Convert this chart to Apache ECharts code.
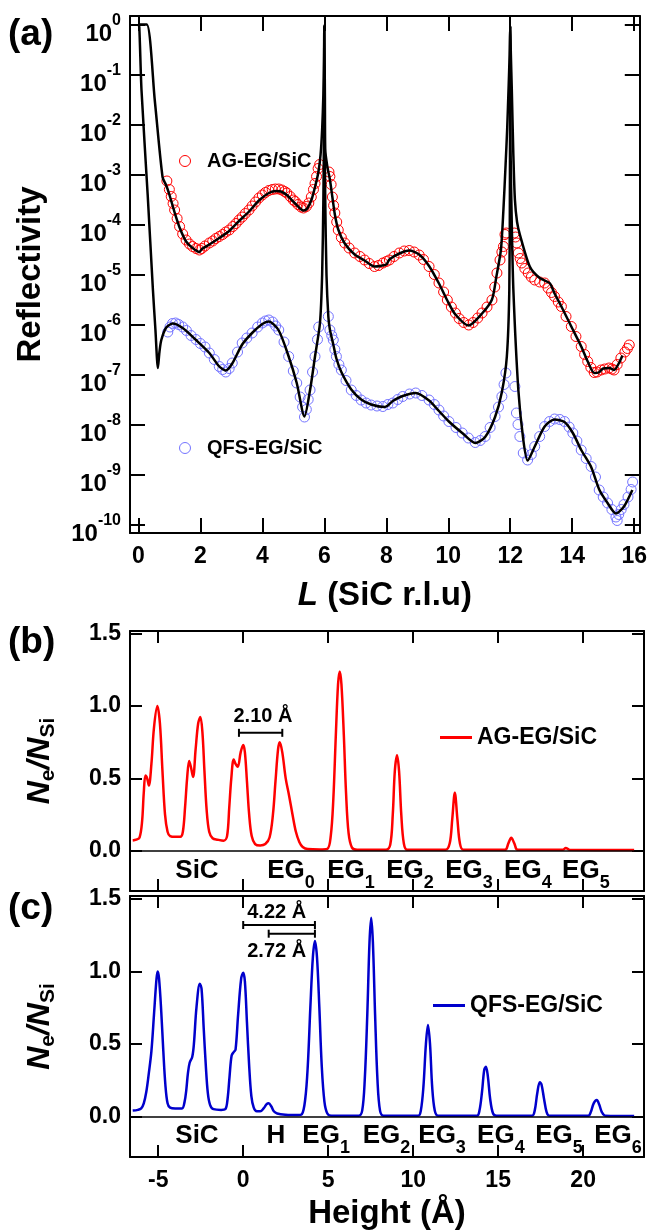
<!DOCTYPE html>
<html><head><meta charset="utf-8">
<script src="https://cdn.jsdelivr.net/npm/echarts@6/dist/echarts.min.js"></script>
<style>html,body{margin:0;padding:0;background:#fff}#c{width:650px;height:1232px}</style>
</head><body><div id="c"></div>
<script>
// ---------- Panel (a): reflectivity, values stored as log10(R) ----------
const agData = [[0.92,-3.13],[1.0,-3.30],[1.06,-3.44],[1.12,-3.58],[1.17,-3.71],[1.25,-3.88],[1.33,-4.04],[1.43,-4.19],[1.54,-4.31],[1.65,-4.39],[1.75,-4.44],[1.86,-4.48],[1.97,-4.51],[2.05,-4.48],[2.15,-4.43],[2.29,-4.37],[2.4,-4.33],[2.5,-4.28],[2.61,-4.24],[2.72,-4.20],[2.82,-4.15],[2.93,-4.11],[3.05,-4.04],[3.15,-3.98],[3.25,-3.91],[3.35,-3.85],[3.45,-3.78],[3.57,-3.71],[3.67,-3.63],[3.78,-3.55],[3.89,-3.47],[4.0,-3.41],[4.1,-3.36],[4.21,-3.32],[4.32,-3.30],[4.42,-3.29],[4.53,-3.29],[4.63,-3.31],[4.72,-3.34],[4.79,-3.37],[4.9,-3.44],[5.0,-3.51],[5.06,-3.54],[5.15,-3.60],[5.25,-3.65],[5.33,-3.67],[5.42,-3.64],[5.5,-3.57],[5.58,-3.45],[5.65,-3.30],[5.7,-3.18],[5.75,-3.04],[5.8,-2.88],[5.85,-2.80],[6.15,-2.95],[6.18,-3.04],[6.22,-3.2],[6.26,-3.45],[6.3,-3.62],[6.34,-3.77],[6.4,-3.95],[6.45,-4.11],[6.55,-4.26],[6.66,-4.37],[6.8,-4.47],[6.98,-4.57],[7.15,-4.64],[7.3,-4.71],[7.45,-4.78],[7.62,-4.84],[7.75,-4.82],[7.89,-4.77],[8.0,-4.74],[8.1,-4.71],[8.25,-4.64],[8.42,-4.57],[8.58,-4.53],[8.74,-4.52],[8.9,-4.55],[9.06,-4.61],[9.2,-4.7],[9.38,-4.84],[9.55,-5.0],[9.7,-5.17],[9.85,-5.35],[9.97,-5.51],[10.1,-5.65],[10.23,-5.77],[10.35,-5.88],[10.5,-5.96],[10.66,-6.01],[10.8,-5.96],[10.95,-5.87],[11.09,-5.77],[11.25,-5.65],[11.41,-5.51],[11.5,-5.25],[11.57,-4.97],[11.67,-4.71],[11.73,-4.55],[11.78,-4.44],[11.83,-4.2],[11.87,-4.17],[12.13,-4.17],[12.17,-4.25],[12.21,-4.37],[12.26,-4.57],[12.32,-4.68],[12.37,-4.77],[12.47,-4.88],[12.58,-4.97],[12.68,-5.05],[12.79,-5.11],[12.95,-5.15],[13.11,-5.17],[13.22,-5.27],[13.33,-5.36],[13.43,-5.44],[13.55,-5.55],[13.65,-5.64],[13.8,-5.84],[13.97,-6.04],[14.12,-6.24],[14.29,-6.44],[14.4,-6.6],[14.5,-6.74],[14.6,-6.86],[14.71,-6.96],[14.8,-6.95],[14.93,-6.91],[15.05,-6.89],[15.19,-6.87],[15.28,-6.89],[15.35,-6.91],[15.45,-6.8],[15.57,-6.67],[15.7,-6.55],[15.78,-6.48],[15.84,-6.41]];

const qfsData = [[0.95,-6.15],[1.02,-6.05],[1.1,-5.98],[1.2,-5.97],[1.3,-6.0],[1.43,-6.05],[1.55,-6.12],[1.7,-6.22],[1.86,-6.3],[2.0,-6.38],[2.15,-6.45],[2.29,-6.57],[2.45,-6.7],[2.61,-6.84],[2.72,-6.9],[2.82,-6.95],[2.93,-6.88],[3.03,-6.77],[3.2,-6.55],[3.35,-6.37],[3.5,-6.27],[3.67,-6.17],[3.85,-6.05],[4.0,-5.97],[4.1,-5.93],[4.21,-5.91],[4.33,-5.95],[4.43,-6.03],[4.53,-6.11],[4.7,-6.35],[4.85,-6.64],[5.0,-6.93],[5.11,-7.17],[5.22,-7.45],[5.3,-7.65],[5.36,-7.85],[5.42,-7.7],[5.48,-7.5],[5.54,-7.31],[5.62,-6.95],[5.7,-6.64],[5.78,-6.3],[5.82,-6.05],[6.13,-5.84],[6.18,-6.11],[6.24,-6.22],[6.29,-6.31],[6.34,-6.5],[6.39,-6.64],[6.47,-6.8],[6.55,-6.91],[6.7,-7.12],[6.87,-7.31],[7.03,-7.42],[7.19,-7.51],[7.35,-7.57],[7.51,-7.61],[7.7,-7.63],[7.89,-7.64],[8.05,-7.6],[8.21,-7.57],[8.37,-7.5],[8.53,-7.44],[8.75,-7.39],[8.95,-7.37],[9.15,-7.42],[9.38,-7.51],[9.55,-7.6],[9.7,-7.71],[9.85,-7.83],[10.02,-7.94],[10.25,-8.06],[10.45,-8.17],[10.65,-8.27],[10.87,-8.36],[11.03,-8.32],[11.19,-8.24],[11.35,-8.06],[11.51,-7.84],[11.62,-7.65],[11.73,-7.44],[11.8,-7.2],[11.86,-6.97],[12.15,-7.24],[12.2,-7.77],[12.25,-8.0],[12.31,-8.24],[12.42,-8.57],[12.56,-8.71],[12.68,-8.6],[12.79,-8.44],[12.95,-8.24],[13.11,-8.04],[13.27,-7.94],[13.43,-7.89],[13.6,-7.9],[13.75,-7.94],[13.9,-8.05],[14.02,-8.17],[14.15,-8.33],[14.29,-8.51],[14.45,-8.68],[14.61,-8.84],[14.75,-9.05],[14.87,-9.31],[15.0,-9.45],[15.14,-9.57],[15.28,-9.7],[15.41,-9.85],[15.45,-9.92],[15.5,-9.8],[15.58,-9.7],[15.67,-9.6],[15.8,-9.45],[15.9,-9.3],[15.95,-9.15]];

const agFit = [[0,0],[0.27,0],[0.53,-1.52],[0.78,-3.05],[0.9,-3.22],[1.0,-3.40],[1.17,-3.76],[1.33,-4.06],[1.54,-4.34],[1.75,-4.47],[1.97,-4.55],[2.05,-4.49],[2.29,-4.40],[2.61,-4.27],[2.93,-4.13],[3.25,-3.93],[3.57,-3.74],[3.89,-3.52],[4.21,-3.37],[4.45,-3.33],[4.6,-3.34],[4.79,-3.41],[5.06,-3.58],[5.33,-3.72],[5.45,-3.68],[5.6,-3.48],[5.72,-3.2],[5.81,-2.95],[5.88,-2.6],[5.93,-2.1],[5.97,-1.4],[5.99,-0.7],[6.0,-0.02],[6.02,-1.5],[6.03,-2.5],[6.1,-2.85],[6.18,-3.1],[6.26,-3.45],[6.34,-3.8],[6.45,-4.1],[6.66,-4.38],[6.98,-4.6],[7.3,-4.72],[7.62,-4.84],[7.8,-4.83],[8.0,-4.8],[8.1,-4.7],[8.42,-4.58],[8.74,-4.52],[9.06,-4.6],[9.38,-4.83],[9.7,-5.18],[9.97,-5.52],[10.23,-5.8],[10.66,-6.02],[11.09,-5.78],[11.41,-5.5],[11.55,-5.05],[11.7,-4.5],[11.78,-3.7],[11.85,-2.8],[11.9,-2.1],[11.95,-1.2],[11.98,-0.6],[12.0,-0.02],[12.02,-0.6],[12.05,-1.3],[12.1,-2.6],[12.15,-3.5],[12.22,-3.95],[12.31,-4.2],[12.63,-4.84],[12.95,-5.07],[13.27,-5.17],[13.43,-5.38],[13.65,-5.64],[13.97,-6.04],[14.29,-6.44],[14.5,-6.74],[14.71,-6.97],[14.85,-6.96],[15.0,-6.88],[15.2,-6.87],[15.35,-6.91],[15.5,-6.78],[15.62,-6.62]];

const qfsFit = [[0,0],[0.03,-0.05],[0.1,-1.3],[0.3,-3.4],[0.47,-5.31],[0.55,-6.1],[0.63,-6.87],[0.68,-6.55],[0.74,-6.31],[0.9,-6.06],[1.11,-5.98],[1.43,-6.07],[1.86,-6.31],[2.29,-6.57],[2.61,-6.84],[2.82,-6.92],[3.03,-6.78],[3.35,-6.4],[3.67,-6.17],[4.0,-5.99],[4.21,-5.94],[4.53,-6.12],[4.85,-6.64],[5.11,-7.17],[5.36,-7.84],[5.54,-7.31],[5.7,-6.64],[5.86,-5.97],[5.93,-5.0],[5.97,-3.5],[5.99,-2.0],[6.0,-0.05],[6.01,-2.0],[6.03,-3.5],[6.07,-5.0],[6.13,-5.84],[6.18,-6.1],[6.29,-6.4],[6.39,-6.68],[6.55,-6.95],[6.87,-7.3],[7.19,-7.5],[7.51,-7.6],[7.94,-7.65],[8.05,-7.62],[8.21,-7.53],[8.53,-7.43],[8.95,-7.37],[9.38,-7.52],[9.7,-7.73],[10.02,-7.94],[10.45,-8.17],[10.87,-8.37],[11.19,-8.25],[11.51,-7.85],[11.73,-7.35],[11.89,-6.64],[11.97,-5.3],[11.99,-3.0],[12.0,-0.05],[12.01,-2.5],[12.05,-4.0],[12.1,-5.3],[12.26,-7.3],[12.42,-8.3],[12.56,-8.72],[12.79,-8.44],[13.11,-8.04],[13.43,-7.9],[13.75,-7.95],[14.02,-8.17],[14.29,-8.51],[14.61,-8.85],[14.87,-9.3],[15.14,-9.57],[15.41,-9.78],[15.67,-9.64],[15.94,-9.31]];

const aXTicks = [0,2,4,6,8,10,12,14,16];
const aYTicks = [-10,-9,-8,-7,-6,-5,-4,-3,-2,-1,0];

// ---------- Panels (b),(c): electron density profiles ----------
const agDensity = [[-6.5,0.07],[-6.3,0.075],[-6.1,0.09],[-5.95,0.2],[-5.85,0.4],[-5.75,0.52],[-5.65,0.5],[-5.55,0.45],[-5.4,0.6],[-5.25,0.85],[-5.05,1.0],[-4.9,0.88],[-4.75,0.55],[-4.6,0.25],[-4.45,0.13],[-4.3,0.1],[-4.0,0.095],[-3.7,0.095],[-3.55,0.13],[-3.42,0.3],[-3.3,0.5],[-3.18,0.62],[-3.08,0.58],[-2.95,0.51],[-2.8,0.7],[-2.65,0.88],[-2.52,0.925],[-2.4,0.82],[-2.28,0.55],[-2.15,0.28],[-2.0,0.13],[-1.8,0.085],[-1.5,0.075],[-1.15,0.068],[-0.95,0.1],[-0.82,0.3],[-0.7,0.5],[-0.56,0.63],[-0.45,0.6],[-0.32,0.58],[-0.15,0.68],[0.0,0.73],[0.1,0.68],[0.22,0.48],[0.35,0.25],[0.5,0.1],[0.7,0.045],[1.0,0.035],[1.3,0.045],[1.55,0.09],[1.75,0.25],[1.9,0.48],[2.05,0.7],[2.15,0.75],[2.3,0.68],[2.5,0.5],[2.7,0.38],[2.9,0.25],[3.1,0.13],[3.3,0.06],[3.5,0.025],[3.8,0.01],[4.5,0.008],[4.95,0.012],[5.15,0.1],[5.3,0.35],[5.45,0.8],[5.58,1.15],[5.68,1.24],[5.78,1.15],[5.92,0.8],[6.05,0.4],[6.2,0.12],[6.4,0.02],[6.7,0.005],[8.4,0.005],[8.65,0.04],[8.8,0.25],[8.92,0.55],[9.05,0.66],[9.17,0.55],[9.3,0.25],[9.45,0.05],[9.65,0.005],[11.9,0.005],[12.15,0.05],[12.3,0.22],[12.45,0.4],[12.6,0.22],[12.75,0.05],[12.95,0.005],[15.4,0.005],[15.6,0.05],[15.77,0.088],[15.95,0.05],[16.15,0.005],[18.8,0.005],[18.98,0.018],[19.2,0.005],[23.0,0.003]];

const qfsDensity = [[-6.5,0.04],[-6.2,0.045],[-6.0,0.055],[-5.85,0.09],[-5.7,0.17],[-5.55,0.3],[-5.4,0.45],[-5.25,0.7],[-5.1,0.95],[-5.03,1.0],[-4.95,0.95],[-4.82,0.72],[-4.7,0.45],[-4.58,0.22],[-4.45,0.09],[-4.3,0.06],[-4.0,0.055],[-3.6,0.055],[-3.45,0.1],[-3.35,0.18],[-3.25,0.3],[-3.15,0.37],[-3.0,0.41],[-2.9,0.5],[-2.75,0.75],[-2.55,0.915],[-2.45,0.88],[-2.32,0.6],[-2.2,0.35],[-2.08,0.16],[-1.95,0.08],[-1.75,0.05],[-1.3,0.045],[-1.05,0.05],[-0.92,0.12],[-0.8,0.28],[-0.68,0.42],[-0.55,0.445],[-0.45,0.46],[-0.3,0.7],[-0.12,0.95],[0.0,0.99],[0.1,0.93],[0.22,0.65],[0.35,0.35],[0.48,0.14],[0.62,0.06],[0.8,0.035],[1.0,0.035],[1.2,0.055],[1.38,0.085],[1.5,0.09],[1.65,0.07],[1.8,0.035],[2.0,0.02],[2.5,0.012],[3.2,0.01],[3.45,0.015],[3.65,0.12],[3.8,0.35],[3.95,0.75],[4.1,1.1],[4.22,1.21],[4.34,1.1],[4.48,0.75],[4.62,0.35],[4.78,0.1],[4.95,0.02],[5.2,0.005],[6.8,0.005],[7.0,0.04],[7.15,0.25],[7.3,0.7],[7.43,1.2],[7.53,1.37],[7.63,1.2],[7.76,0.7],[7.9,0.25],[8.05,0.04],[8.25,0.005],[10.3,0.005],[10.45,0.04],[10.6,0.2],[10.75,0.5],[10.87,0.63],[10.99,0.5],[11.12,0.2],[11.27,0.04],[11.45,0.005],[13.75,0.005],[13.9,0.04],[14.05,0.17],[14.18,0.32],[14.28,0.343],[14.39,0.28],[14.53,0.12],[14.7,0.02],[14.9,0.005],[17.0,0.005],[17.15,0.04],[17.3,0.16],[17.45,0.235],[17.55,0.22],[17.7,0.12],[17.85,0.03],[18.0,0.005],[20.3,0.005],[20.45,0.03],[20.62,0.09],[20.8,0.113],[20.95,0.08],[21.1,0.03],[21.3,0.005],[23.0,0.003]];

const hXTicks = [-5,0,5,10,15,20];
const hYTicks = [0,0.5,1.0,1.5];

// layer labels: [text, subscript, x position (Å)]
const bLayerLabels = [['SiC','',-2.72],['EG','0',2.81],['EG','1',6.34],['EG','2',9.81],['EG','3',13.28],['EG','4',16.75],['EG','5',20.16]];
const cLayerLabels = [['SiC','',-2.72],['H','',1.93],['EG','1',4.88],['EG','2',8.43],['EG','3',11.7],['EG','4',15.16],['EG','5',18.58],['EG','6',22.05]];
const bLayerLabelY = -0.15, cLayerLabelY = -0.14;

// spacing brackets: [x1, x2, y] and their texts: [text, x, y]
const bBrackets = [[-0.25, 2.3, 0.815]];
const bBracketTexts = [['2.10 Å', 1.16, 0.925]];
const cBrackets = [[0.0, 4.22, 1.32],[1.5, 4.22, 1.26]];
const cBracketTexts = [['4.22 Å', 1.97, 1.405],['2.72 Å', 1.97, 1.14]];

// ---------- build ----------
const FF = 'Liberation Sans, Arial, Helvetica, sans-serif';
const chart = echarts.init(document.getElementById('c'), null, {renderer:'canvas'});

const grids = [
  {left:130, top:16, width:514, height:517},
  {left:130, top:631, width:514, height:260},
  {left:130, top:896, width:514, height:261}
];
const aRange = {x:[-0.27,16.18], y:[-10.17,0.17]};
const hRange = {x:[-6.66,23.58], y:[-0.28,1.52]};

function xAx(grid, pos, rng, ticks, tickLen, labels, name, nameGap, rich){
  return {type:'value', gridIndex:grid, position:pos, min:rng[0], max:rng[1],
    axisLine:{show:true, onZero:false, lineStyle:{color:'#000', width:2}},
    axisTick:{show:true, inside:true, length:tickLen, customValues:ticks, lineStyle:{color:'#000', width:2}},
    axisLabel:{show:!!labels, customValues:ticks, margin:12, color:'#000', fontFamily:FF, fontWeight:'bold', fontSize:23},
    splitLine:{show:false}, name:name||'', nameLocation:'middle', nameGap:nameGap||0,
    nameTextStyle:{color:'#000', fontFamily:FF, fontWeight:'bold', fontSize:33, rich:rich||{}}};
}
function yAx(grid, pos, rng, ticks, tickLen, labels, fmt, name, nameGap, rich, labelRich){
  return {type:'value', gridIndex:grid, position:pos, min:rng[0], max:rng[1],
    axisLine:{show:true, onZero:false, lineStyle:{color:'#000', width:2}},
    axisTick:{show:true, inside:true, length:tickLen, customValues:ticks, lineStyle:{color:'#000', width:2}},
    axisLabel:{show:!!labels, customValues:ticks, margin:9, color:'#000', fontFamily:FF, fontWeight:'bold', fontSize:23, formatter:fmt, rich:labelRich||{}},
    splitLine:{show:false}, name:name||'', nameLocation:'middle', nameGap:nameGap||0,
    nameTextStyle:{color:'#000', fontFamily:FF, fontWeight:'bold', fontSize:33, rich:rich||{}}};
}

const supRich = {
  m:{fontFamily:FF, fontWeight:'bold', fontSize:24, lineHeight:24, padding:[10,0,0,0], verticalAlign:'top', color:'#000'},
  s:{fontFamily:FF, fontWeight:'bold', fontSize:16, lineHeight:20, verticalAlign:'top', color:'#000'}
};
const neRich = {
  n:{fontFamily:FF, fontWeight:'bold', fontStyle:'italic', fontSize:32, lineHeight:34, verticalAlign:'top', color:'#000'},
  s:{fontFamily:FF, fontWeight:'bold', fontSize:21, lineHeight:21, padding:[14,0,0,0], verticalAlign:'top', color:'#000'}
};
const lRich = {
  i:{fontFamily:FF, fontWeight:'bold', fontStyle:'italic', fontSize:33, color:'#000'},
  n:{fontFamily:FF, fontWeight:'bold', fontSize:33, color:'#000'}
};
const neName = '{n|N}{s|e}{n|/N}{s|Si}';

const xAxes = [
  xAx(0,'bottom',aRange.x,aXTicks,15,true,'{i|L}{n| (SiC r.l.u)}',46,lRich),
  xAx(0,'top',aRange.x,aXTicks,15,false),
  xAx(1,'bottom',hRange.x,hXTicks,12,false),
  xAx(1,'top',hRange.x,hXTicks,12,false),
  xAx(2,'bottom',hRange.x,hXTicks,12,true,'Height (Å)',40),
  xAx(2,'top',hRange.x,hXTicks,12,false)
];
const yAxes = [
  yAx(0,'left',aRange.y,aYTicks,15,true,v=>'{m|10}{s|'+Math.round(v)+'}','Reflectivity',83,{},supRich),
  yAx(0,'right',aRange.y,aYTicks,15,false),
  yAx(1,'left',hRange.y,hYTicks,12,true,v=>v.toFixed(1),neName,72,neRich),
  yAx(1,'right',hRange.y,hYTicks,12,false),
  yAx(2,'left',hRange.y,hYTicks,12,true,v=>v.toFixed(1),neName,72,neRich),
  yAx(2,'right',hRange.y,hYTicks,12,false)
];

const catRich = {
  m:{fontFamily:FF, fontWeight:'bold', fontSize:26, lineHeight:28, verticalAlign:'top', color:'#000'},
  s:{fontFamily:FF, fontWeight:'bold', fontSize:18, lineHeight:18, padding:[16,0,0,0], verticalAlign:'top', color:'#000'}
};
function layerSeries(labels, y, xi, yi){
  return {type:'scatter', xAxisIndex:xi, yAxisIndex:yi, symbolSize:0, silent:true, z:5,
    itemStyle:{opacity:1},
    data:labels.map(l=>({value:[l[2], y], lab:l[0], sub:l[1]})),
    label:{show:true, opacity:1, position:'inside', formatter:p=>p.data.sub?('{m|'+p.data.lab+'}{s|'+p.data.sub+'}'):('{m|'+p.data.lab+'}'), rich:catRich}};
}
function textSeries(texts, xi, yi){
  return {type:'scatter', xAxisIndex:xi, yAxisIndex:yi, symbolSize:0, silent:true, z:5,
    itemStyle:{opacity:1},
    data:texts.map(t=>({value:[t[1],t[2]], txt:t[0]})),
    label:{show:true, opacity:1, position:'inside', formatter:p=>p.data.txt, color:'#000', fontFamily:FF, fontWeight:'bold', fontSize:20}};
}
function bracketSeries(br, xi, yi){
  return br.map(b=>({type:'line', xAxisIndex:xi, yAxisIndex:yi, silent:true, z:4,
    data:[[b[0],b[2]],[b[1],b[2]]], symbol:'rect', symbolSize:[2,8], showSymbol:true,
    itemStyle:{color:'#000'}, lineStyle:{color:'#000', width:2}}));
}
function zeroLine(){
  return {silent:true, symbol:'none', label:{show:false}, lineStyle:{color:'#000', width:1.5, type:'solid'}, data:[{yAxis:0}]};
}

const series = [
  {name:'AG-EG/SiC', type:'scatter', xAxisIndex:0, yAxisIndex:0, data:agData, symbol:'circle', symbolSize:10,
    itemStyle:{color:'rgba(0,0,0,0)', borderColor:'#ff0000', borderWidth:1, opacity:1}, z:2},
  {name:'QFS-EG/SiC', type:'scatter', xAxisIndex:0, yAxisIndex:0, data:qfsData, symbol:'circle', symbolSize:10,
    itemStyle:{color:'rgba(0,0,0,0)', borderColor:'#7474ff', borderWidth:1, opacity:1}, z:2},
  {type:'line', xAxisIndex:0, yAxisIndex:0, data:agFit, showSymbol:false, symbol:'none', smooth:0.25,
    lineStyle:{color:'#000', width:2.5}, z:3, silent:true},
  {type:'line', xAxisIndex:0, yAxisIndex:0, data:qfsFit, showSymbol:false, symbol:'none', smooth:0.25,
    lineStyle:{color:'#000', width:2.5}, z:3, silent:true},
  {name:'AG-EG/SiC (b)', type:'line', xAxisIndex:2, yAxisIndex:2, data:agDensity, showSymbol:false, symbol:'none', smooth:0.35,
    lineStyle:{color:'#ff0000', width:2.5}, itemStyle:{color:'#ff0000'}, z:3, markLine:zeroLine()},
  {name:'QFS-EG/SiC (c)', type:'line', xAxisIndex:4, yAxisIndex:4, data:qfsDensity, showSymbol:false, symbol:'none', smooth:0.35,
    lineStyle:{color:'#0000cc', width:2.5}, itemStyle:{color:'#0000cc'}, z:3, markLine:zeroLine()},
  layerSeries(bLayerLabels, bLayerLabelY, 2, 2),
  layerSeries(cLayerLabels, cLayerLabelY, 4, 4),
  textSeries(bBracketTexts, 2, 2),
  textSeries(cBracketTexts, 4, 4),
  ...bracketSeries(bBrackets, 2, 2),
  ...bracketSeries(cBrackets, 4, 4)
];

const legTxt = (fs)=>({color:'#000', fontFamily:FF, fontWeight:'bold', fontSize:fs});
const legends = [
  {data:['AG-EG/SiC'], left:179, top:151, padding:0, icon:'circle', itemWidth:34, itemHeight:11, selectedMode:false,
    itemStyle:{color:'rgba(0,0,0,0)', borderColor:'#ff0000', borderWidth:1}, textStyle:legTxt(20)},
  {data:['QFS-EG/SiC'], left:179, top:438, padding:0, icon:'circle', itemWidth:34, itemHeight:11, selectedMode:false,
    itemStyle:{color:'rgba(0,0,0,0)', borderColor:'#7474ff', borderWidth:1}, textStyle:legTxt(20)},
  {data:['AG-EG/SiC (b)'], left:440, top:726, padding:0, icon:'rect', itemWidth:32, itemHeight:3, selectedMode:false,
    formatter:n=>n.replace(' (b)',''), textStyle:legTxt(23)},
  {data:['QFS-EG/SiC (c)'], left:433, top:994, padding:0, icon:'rect', itemWidth:32, itemHeight:3, selectedMode:false,
    formatter:n=>n.replace(' (c)',''), textStyle:legTxt(23)}
];

const panelFont = 'bold 37px ' + FF;
chart.setOption({
  animation:false, backgroundColor:'#fff',
  grid:grids, xAxis:xAxes, yAxis:yAxes, series:series, legend:legends,
  graphic:[
    {type:'text', left:8, top:16, style:{text:'(a)', font:panelFont, fill:'#000'}},
    {type:'text', left:8, top:624, style:{text:'(b)', font:panelFont, fill:'#000'}},
    {type:'text', left:8, top:890, style:{text:'(c)', font:panelFont, fill:'#000'}}
  ]
});
</script></body></html>
